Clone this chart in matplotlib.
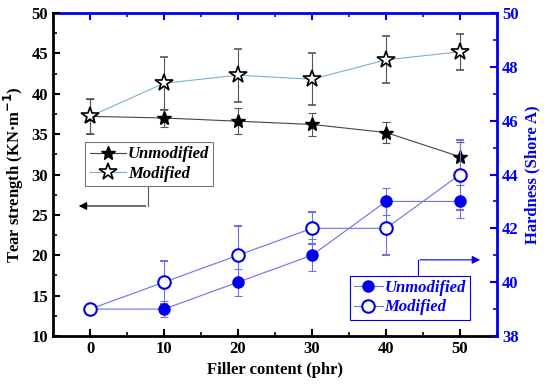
import matplotlib.pyplot as plt
from matplotlib.lines import Line2D
from matplotlib.ticker import MultipleLocator

# Filler content (phr)
filler = [0, 10, 20, 30, 40, 50]

# Tear strength (KN/m), left axis
tear_unmod = [37.2, 37.0, 36.6, 36.2, 35.2, 32.2]
tear_unmod_err = [2.2, 1.1, 1.6, 1.4, 1.3, 1.8]
tear_mod = [37.2, 41.3, 42.3, 41.8, 44.2, 45.2]
tear_mod_err = [2.2, 3.3, 3.3, 3.2, 2.9, 2.2]

# Hardness (Shore A), right axis
hard_unmod = [39, 39, 40, 41, 43, 43]
hard_unmod_err = [0.0, 0.3, 0.5, 0.6, 0.5, 0.6]
hard_mod = [39, 40, 41, 42, 42, 44]
hard_mod_err = [0.0, 0.8, 1.1, 0.6, 1.0, 1.3]

series_labels = ['Unmodified', 'Modified']

BLUE = '#0000ee'
LBLUE = '#7070e8'

plt.rcParams['font.family'] = ['Liberation Serif', 'DejaVu Serif']
plt.rcParams['font.weight'] = 'bold'

fig = plt.figure(figsize=(5.5, 3.86), dpi=100)
ax = fig.add_axes([0.0964, 0.1295, 0.8072, 0.8368])
ax2 = ax.twinx()

# styles for each series
st_tu = dict(color='#444444', lw=0.8, marker='*', ms=10, mfc='black', mec='black')
st_tm = dict(color='#7fb0d0', lw=0.8, marker='*', ms=13, mfc='white', mec='black', mew=1.2)
st_hu = dict(color=LBLUE, lw=0.8, marker='o', ms=8, mfc=BLUE, mec=BLUE)
st_hm = dict(color=LBLUE, lw=0.8, marker='o', ms=9, mfc='white', mec=BLUE, mew=1.5)
err_kw = dict(elinewidth=0.8, capsize=3, capthick=0.8)

# left axis: tear strength
ax.errorbar(filler, tear_unmod, yerr=tear_unmod_err, ecolor='#555555', **st_tu, **err_kw)
ax.errorbar(filler, tear_mod, yerr=tear_mod_err, ecolor='#555555', **st_tm, **err_kw)

# right axis: hardness
ax2.errorbar(filler, hard_unmod, yerr=hard_unmod_err, ecolor=LBLUE, **st_hu, **err_kw)
ax2.errorbar(filler, hard_mod, yerr=hard_mod_err, ecolor=LBLUE, **st_hm, **err_kw)

ax.set_xlim(-5, 55)
ax.set_ylim(10, 50)
ax2.set_ylim(38, 50)

ax.xaxis.set_major_locator(MultipleLocator(10))
ax.xaxis.set_minor_locator(MultipleLocator(5))
ax.yaxis.set_major_locator(MultipleLocator(5))
ax.yaxis.set_minor_locator(MultipleLocator(2.5))
ax2.yaxis.set_major_locator(MultipleLocator(2))
ax2.yaxis.set_minor_locator(MultipleLocator(1))

ax.tick_params(axis='both', which='both', direction='in', labelsize=12)
ax.tick_params(which='major', length=5, width=1.5)
ax.tick_params(which='minor', length=3, width=1.2)
ax.tick_params(axis='y', right=False)
ax2.tick_params(axis='y', which='both', direction='in', colors=BLUE, labelsize=12)
ax2.tick_params(which='major', length=5, width=1.5)
ax2.tick_params(which='minor', length=3, width=1.2)

for lbl in ax.get_xticklabels() + ax.get_yticklabels() + ax2.get_yticklabels():
    lbl.set_fontweight('bold')

# top axis with blue ticks, no labels
top = ax.secondary_xaxis('top')
top.xaxis.set_major_locator(MultipleLocator(10))
top.xaxis.set_minor_locator(MultipleLocator(5))
top.tick_params(which='both', direction='in', colors=BLUE, labeltop=False)
top.tick_params(which='major', length=5, width=1.5)
top.tick_params(which='minor', length=3, width=1.2)
top.spines['top'].set_color(BLUE)
top.spines['top'].set_linewidth(2)

for sp in ['left', 'bottom']:
    ax.spines[sp].set_linewidth(2)
ax.spines['top'].set_visible(False)
ax.spines['right'].set_visible(False)
ax2.spines['right'].set_color(BLUE)
ax2.spines['right'].set_linewidth(2)
ax2.spines['top'].set_visible(False)
ax2.spines['left'].set_visible(False)
ax2.spines['bottom'].set_visible(False)

ax.set_xlabel('Filler content (phr)', fontsize=12, fontweight='bold')
ax.set_ylabel('Tear strength (KN·m$^{\\mathbf{-1}}$)', fontsize=12, fontweight='bold')
ax2.set_ylabel('Hardness (Shore A)', fontsize=12, fontweight='bold', color=BLUE)

leg_font = {'family': 'Liberation Serif', 'weight': 'bold', 'style': 'italic', 'size': 12}
leg_kw = dict(loc='upper left', prop=leg_font, fancybox=False, framealpha=1,
              handletextpad=0.1, borderpad=0.25,
              labelspacing=0.2, borderaxespad=0)
h1 = [Line2D([], [], **st_tu), Line2D([], [], **st_tm)]
leg1 = ax.legend(h1, series_labels, bbox_to_anchor=(0.073, 0.60),
                 edgecolor='#777777', handlelength=2.2, **leg_kw)
leg1.get_frame().set_linewidth(0.8)
h2 = [Line2D([], [], **st_hu), Line2D([], [], **st_hm)]
leg2 = ax2.legend(h2, series_labels, bbox_to_anchor=(0.669, 0.186),
                  edgecolor=BLUE, handlelength=1.7, **leg_kw)
leg2.get_frame().set_linewidth(0.8)
for t in leg2.get_texts():
    t.set_color(BLUE)

# arrows pointing to the respective axes
ax.plot([7.8, 7.8], [28.7, 26.1], color='#555555', lw=0.8)
ax.annotate('', xy=(-1.9, 26.1), xytext=(7.9, 26.1),
            arrowprops=dict(arrowstyle='-|>', color='black', lw=0.8, mutation_scale=12))
ax2.plot([44.3, 44.3], [40.23, 40.83], color=BLUE, lw=0.8)
ax2.annotate('', xy=(53.1, 40.83), xytext=(44.2, 40.83),
             arrowprops=dict(arrowstyle='-|>', color=BLUE, lw=0.8, mutation_scale=12))

fig.savefig('out.png', dpi=100)
